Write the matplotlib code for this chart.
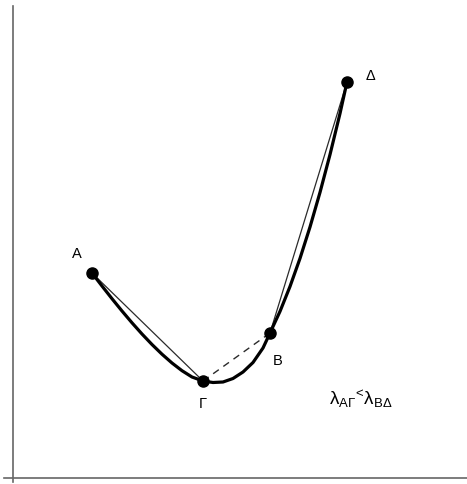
import matplotlib
matplotlib.use("Agg")
import matplotlib.pyplot as plt

plt.rcParams['font.family'] = ['Liberation Sans', 'DejaVu Sans']
plt.rcParams['mathtext.fontset'] = 'custom'
plt.rcParams['mathtext.rm'] = 'Liberation Sans'
plt.rcParams['mathtext.it'] = 'Liberation Sans'
plt.rcParams['mathtext.bf'] = 'Liberation Sans:bold'

# Named points (x, y)
point_names = ['A', 'Γ', 'B', 'Δ']
point_x = [79, 190, 257, 334]
point_y = [205, 97, 145, 396]

# Thick curve through the points
curve_x = [79, 89, 99, 109, 119, 129, 139, 149, 159, 169, 179, 190,
           200, 210, 220, 230, 240, 250, 257,
           267, 277, 287, 297, 307, 317, 327, 334]
curve_y = [205, 192, 179.3, 167, 155.2, 144, 133.5, 123.8, 115, 107.3, 101, 97,
           95.5, 96, 99.5, 106, 115.5, 130, 145,
           166.6, 191.5, 219.6, 251, 285.6, 323.4, 364.5, 396]

label_text = r'$\lambda_{A\Gamma}{}^{\!{<}\!}\lambda_{B\Delta}$'

fig = plt.figure(figsize=(4.67, 4.85), dpi=100)
ax = fig.add_axes([0, 0, 1, 1])
ax.set_xlim(-13, 454)
ax.set_ylim(-6, 479)
ax.axis('off')

# coordinate axes
ax.axvline(0, ymin=2/485, ymax=478/485, color='#666666', lw=1.2)
ax.axhline(0, xmin=4/467, xmax=1, color='#666666', lw=1.2)

# curve
ax.plot(curve_x, curve_y, color='black', lw=2.3, solid_capstyle='round', zorder=3)

# chords
ax.plot([point_x[0], point_x[1]], [point_y[0], point_y[1]], color='#2a2a2a', lw=0.9, zorder=2)
ax.plot([point_x[2], point_x[3]], [point_y[2], point_y[3]], color='#2a2a2a', lw=0.9, zorder=2)
ax.plot([point_x[1], point_x[2]], [point_y[1], point_y[2]], color='#2a2a2a', lw=1.0,
        dashes=(5, 4), zorder=2)

# points
ax.plot(point_x, point_y, 'o', color='black', ms=8, zorder=4)

# labels
label_dx = [-15, 0, 8, 24]
label_dy = [20, -22, -27, 7]
for n, x, y, dx, dy in zip(point_names, point_x, point_y, label_dx, label_dy):
    ax.text(x + dx, y + dy, n, ha='center', va='center', fontsize=10.5, color='black')

ax.text(316, 74, label_text, ha='left', va='baseline', fontsize=13.5, color='black')

fig.savefig('out.png', dpi=100)
